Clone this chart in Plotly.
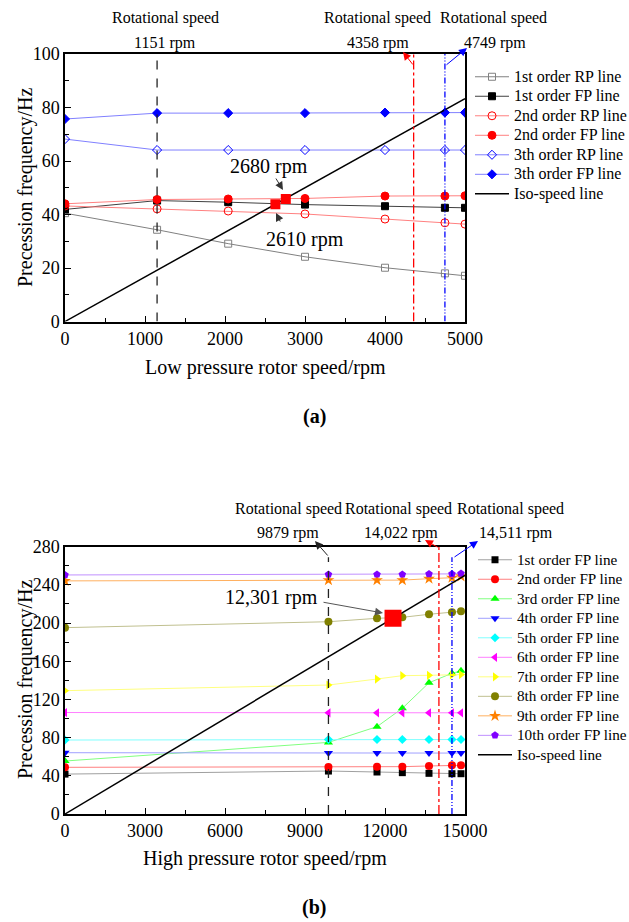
import plotly.graph_objects as go

# ---------------- data: (a) low pressure rotor ----------------
lp_speed = [0, 1151, 2040, 3000, 4000, 4749, 5000]
lp_rp1 = [40.5, 34.3, 29.1, 24.2, 20.1, 18.0, 17.1]
lp_fp1 = [41.9, 45.2, 44.6, 43.7, 43.1, 42.5, 42.5]
lp_rp2 = [43.2, 42.1, 41.3, 40.2, 38.3, 36.9, 36.4]
lp_fp2 = [44.0, 45.6, 45.8, 46.0, 46.9, 46.9, 47.0]
lp_rp3 = [68.2, 64.1, 64.1, 64.1, 64.1, 64.1, 64.1]
lp_fp3 = [75.7, 77.9, 77.9, 77.9, 78.1, 78.1, 78.1]
lp_iso_x = [0, 5000]
lp_iso_y = [0, 83.3]
lp_cross_x = [2630, 2760]
lp_cross_y = [43.8, 45.8]
lp_rot = [1151, 4358, 4749]

# ---------------- data: (b) high pressure rotor ----------------
hp_speed = [0, 9879, 11700, 12650, 13650, 14511, 14850]
hp_fp = {
    "1st": [41.8, 45.0, 44.0, 43.3, 42.6, 42.2, 42.2],
    "2nd": [48.9, 49.2, 49.6, 49.6, 50.3, 51.0, 51.0],
    "3rd": [55.5, 75.0, 91.5, 110.7, 137.5, 147.4, 150.0],
    "4th": [64.2, 63.8, 63.8, 63.8, 63.8, 63.8, 63.8],
    "5th": [77.5, 78.0, 78.0, 78.0, 78.0, 78.0, 78.0],
    "6th": [106.3, 106.0, 106.0, 106.0, 106.0, 106.0, 106.0],
    "7th": [129.2, 135.1, 141.4, 144.9, 145.3, 145.6, 146.0],
    "8th": [195.2, 201.4, 205.0, 206.0, 209.2, 211.3, 212.3],
    "9th": [244.2, 245.0, 245.0, 245.0, 246.5, 247.5, 249.0],
    "10th": [250.4, 251.0, 251.0, 251.0, 251.4, 251.5, 252.0],
}
hp_iso_x = [0, 15000]
hp_iso_y = [0, 250]
hp_cross_x = [12301]
hp_cross_y = [205]
hp_rot = [9879, 14022, 14511]
hp_rot_top = [269, 280, 269]

FONT = "Liberation Serif"
W, H = 629, 922
ML, MR, MT, MB = 65, 164, 54, 108
PW, PH = W - ML - MR, H - MT - MB


def px(x):
    return (x - ML) / PW


def py(y):
    return (H - MB - y) / PH


def lname(s, size=16):
    return '<span style="font-size:%spx">%s</span>' % (size, s)


fig = go.Figure()

# ---- (a) traces ----
top_styles = [
    ("1st order RP line", lp_rp1, "square-open", "#808080", "#808080", 7),
    ("1st order FP line", lp_fp1, "square", "#000000", "#404040", 7),
    ("2nd order RP line", lp_rp2, "circle-open", "#ff0000", "#ff8080", 8),
    ("2nd order FP line", lp_fp2, "circle", "#ff0000", "#ff8080", 8),
    ("3th order RP line", lp_rp3, "diamond-open", "#0000ff", "#8080ff", 7),
    ("3th order FP line", lp_fp3, "diamond", "#0000ff", "#8080ff", 7),
]
for name, ys, sym, mc, lc, ms in top_styles:
    fig.add_trace(go.Scatter(
        x=lp_speed, y=ys, name=lname(name), mode="lines+markers",
        line=dict(color=lc, width=1),
        marker=dict(symbol=sym, color=mc, size=ms, line=dict(color=mc, width=1)),
        xaxis="x", yaxis="y", legend="legend"))
fig.add_trace(go.Scatter(
    x=lp_iso_x, y=lp_iso_y, name=lname("Iso-speed line"), mode="lines",
    line=dict(color="black", width=1.5), xaxis="x", yaxis="y", legend="legend"))
fig.add_trace(go.Scatter(
    x=lp_cross_x, y=lp_cross_y, mode="markers", showlegend=False,
    marker=dict(symbol="square", color="#ff0000", size=10),
    xaxis="x", yaxis="y"))

# ---- (b) traces ----
bot_styles = [
    ("1st", "square", "#000000", "#a0a0a0", 7),
    ("2nd", "circle", "#ff0000", "#ff8080", 8),
    ("3rd", "triangle-up", "#00ff00", "#80ff80", 8),
    ("4th", "triangle-down", "#0000ff", "#a0a0ff", 8),
    ("5th", "diamond", "#00ffff", "#80ffff", 7),
    ("6th", "triangle-left", "#ff00ff", "#ff80ff", 8),
    ("7th", "triangle-right", "#ffff00", "#ffff80", 8),
    ("8th", "circle", "#808000", "#c0c090", 8),
    ("9th", "star", "#ff8000", "#ffb060", 9),
    ("10th", "pentagon", "#8000ff", "#c090ff", 8),
]
for key, sym, mc, lc, ms in bot_styles:
    fig.add_trace(go.Scatter(
        x=hp_speed, y=hp_fp[key], name=lname(key + " order FP line", 15.2),
        mode="lines+markers", line=dict(color=lc, width=1),
        marker=dict(symbol=sym, color=mc, size=ms, line=dict(width=0)),
        xaxis="x2", yaxis="y2", legend="legend2"))
fig.add_trace(go.Scatter(
    x=hp_iso_x, y=hp_iso_y, name=lname("Iso-speed line", 15.2), mode="lines",
    line=dict(color="black", width=1.5), xaxis="x2", yaxis="y2", legend="legend2"))
fig.add_trace(go.Scatter(
    x=hp_cross_x, y=hp_cross_y, mode="markers", showlegend=False,
    marker=dict(symbol="square", color="#ff0000", size=17),
    xaxis="x2", yaxis="y2"))

# ---- vertical rotational-speed lines ----
vstyle = [("#222222", "dash"), ("#ff0000", "dashdot"), ("#0000ff", "6px,2px,1px,2px,1px,2px")]
shapes = []
for xv, (c, d) in zip(lp_rot, vstyle):
    shapes.append(dict(type="line", xref="x", yref="y", x0=xv, x1=xv, y0=0, y1=100,
                       line=dict(color=c, dash=d, width=1.3)))
for xv, yt, (c, d) in zip(hp_rot, hp_rot_top, vstyle):
    shapes.append(dict(type="line", xref="x2", yref="y2", x0=xv, x1=xv, y0=0, y1=yt,
                       line=dict(color=c, dash=d, width=1.3)))

# ---- annotations ----
ann = []


def text(t, x, y, size=16, angle=0):
    ann.append(dict(text=t, x=px(x), y=py(y), xref="paper", yref="paper",
                    showarrow=False, textangle=angle, xanchor="center", yanchor="middle",
                    font=dict(family=FONT, size=size, color="black")))


def arrow(hx, hy, tx, ty, color):
    ann.append(dict(text="", x=px(hx), y=py(hy), xref="paper", yref="paper",
                    ax=tx - hx, ay=ty - hy, showarrow=True, arrowhead=2,
                    arrowsize=1.6, arrowwidth=1, arrowcolor=color, standoff=0, startstandoff=0))


# (a)
text("Rotational speed", 165, 18)
text("1151 rpm", 165, 43)
text("Rotational speed", 377, 18)
text("4358 rpm", 378, 43)
text("Rotational speed", 493, 18)
text("4749 rpm", 495, 43)
arrow(403, 52, 414, 66, "#ff0000")
arrow(467, 48, 445, 66, "#0000ff")
text("2680 rpm", 269, 166, 20)
arrow(283, 190, 275, 177, "#333333")
text("2610 rpm", 305, 239, 20)
arrow(276, 213, 281, 223, "#333333")
text("Low pressure rotor speed/rpm", 265, 368, 20)
text("Precession frequency/Hz", 25, 188, 20, -90)
text("<b>(a)</b>", 314, 416, 20)

# (b)
text("Rotational speed", 288, 509)
text("Rotational speed", 398, 509)
text("Rotational speed", 510, 509)
text("9879 rpm", 288, 533)
text("14,022 rpm", 401, 533)
text("14,511 rpm", 516, 533)
arrow(315, 541, 329, 557, "#222222")
arrow(425, 540, 439, 548, "#ff0000")
arrow(478, 541, 453, 558, "#0000ff")
text("12,301 rpm", 271, 597, 20)
arrow(383, 613, 322, 602, "#555555")
text("High pressure rotor speed/rpm", 265, 859, 20)
text("Precession frequency/Hz", 25, 680, 20, -90)
text("<b>(b)</b>", 314, 907, 20)

axis_common = dict(
    showline=True, linecolor="black", linewidth=1.5, mirror=True,
    ticks="inside", ticklen=6, tickwidth=1.2, tickcolor="black",
    showgrid=False, zeroline=False, tickformat="d",
    tickfont=dict(family=FONT, size=18, color="black"),
)
top_frac = py(321.5)
bot_frac = py(546.7)

legend_common = dict(
    font=dict(family=FONT, size=12.7, color="black"),
    bgcolor="rgba(0,0,0,0)", borderwidth=0, itemwidth=34,
    xanchor="left", yanchor="top", tracegroupgap=0,
)

fig.update_layout(
    width=W, height=H,
    margin=dict(l=ML, r=MR, t=MT, b=MB, autoexpand=False),
    paper_bgcolor="white", plot_bgcolor="white",
    font=dict(family=FONT, color="black"),
    xaxis=dict(domain=[0, 1], range=[0, 5000], anchor="y", tick0=0, dtick=1000,
               minor=dict(dtick=500, ticks="inside", ticklen=4, tickcolor="black"),
               **axis_common),
    yaxis=dict(domain=[top_frac, 1], range=[0, 100], anchor="x", tick0=0, dtick=20,
               minor=dict(dtick=10, ticks="inside", ticklen=4, tickcolor="black"),
               **axis_common),
    xaxis2=dict(domain=[0, 1], range=[0, 15000], anchor="y2", tick0=0, dtick=3000,
                minor=dict(dtick=1500, ticks="inside", ticklen=4, tickcolor="black"),
                **axis_common),
    yaxis2=dict(domain=[0, bot_frac], range=[0, 280], anchor="x2", tick0=0, dtick=40,
                minor=dict(dtick=20, ticks="inside", ticklen=4, tickcolor="black"),
                **axis_common),
    legend=dict(x=px(470), y=py(62), **legend_common),
    legend2=dict(x=px(473), y=py(545), **legend_common),
    shapes=shapes,
    annotations=ann,
)

fig.write_html("out.html")
